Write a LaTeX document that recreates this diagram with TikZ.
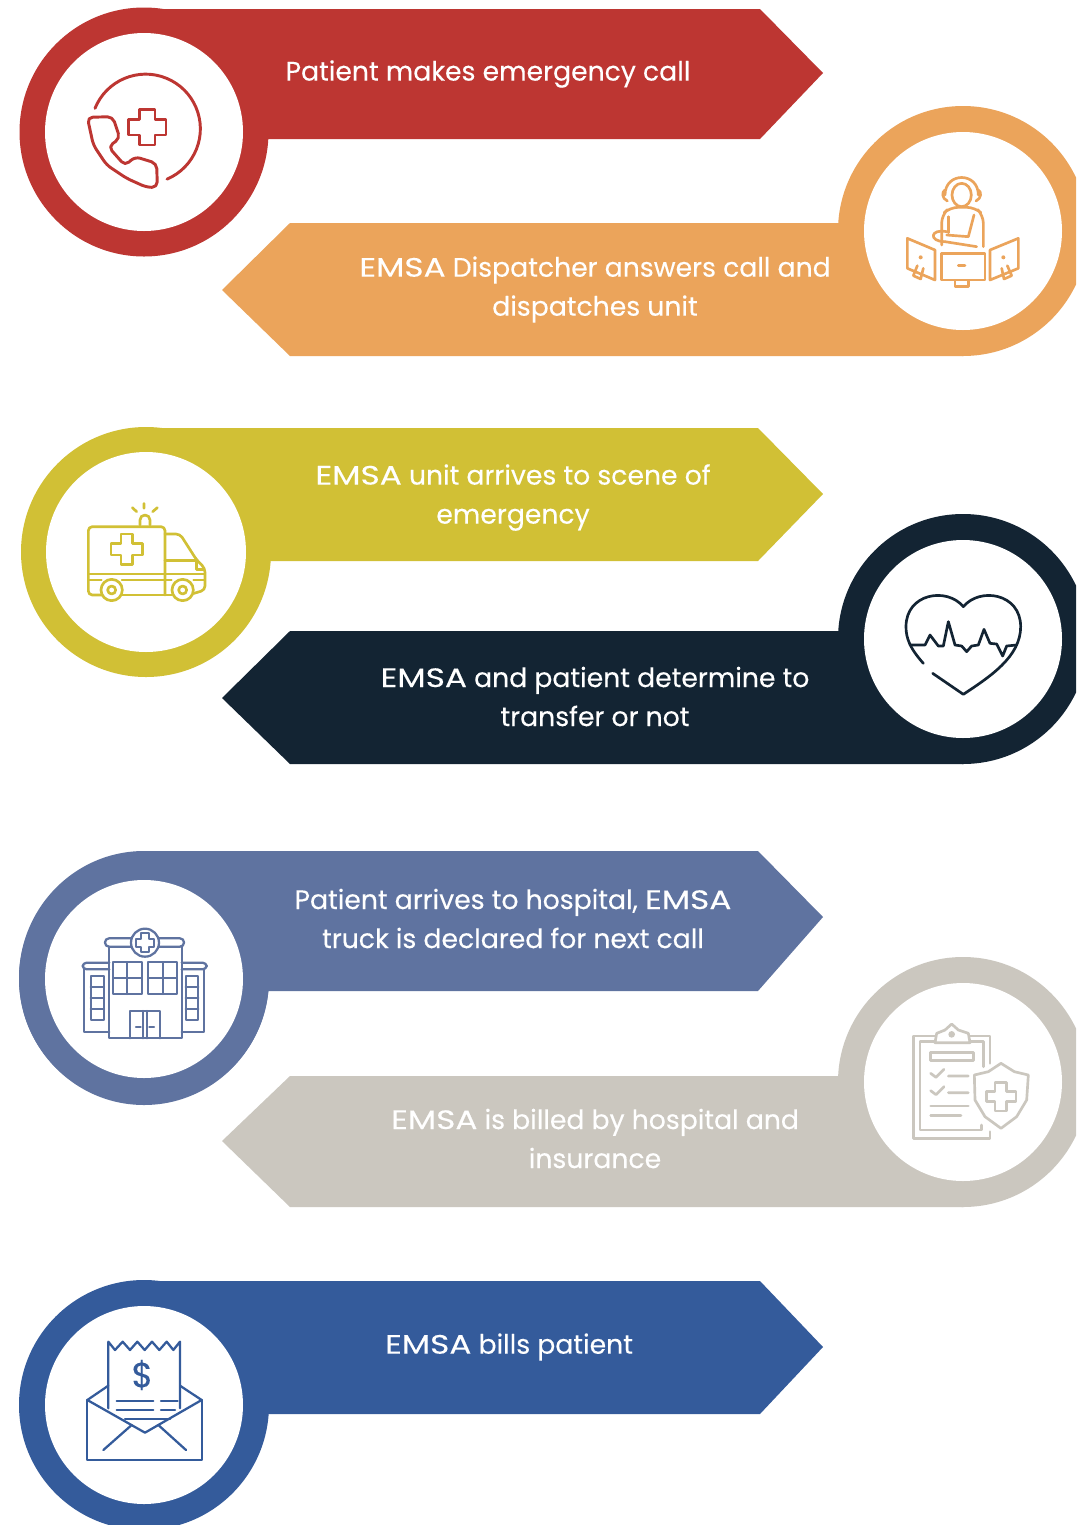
\documentclass[tikz,border=0pt]{standalone}
\usepackage{fontspec}
\setmainfont{Poppins}[FakeBold=0.25]
\definecolor{cred}{HTML}{BD3632}
\definecolor{corange}{HTML}{EBA45B}
\definecolor{colive}{HTML}{D1C035}
\definecolor{cnavy}{HTML}{132433}
\definecolor{cslate}{HTML}{5F73A0}
\definecolor{cbeige}{HTML}{CBC7BF}
\definecolor{cblue}{HTML}{345B9B}
\newcommand{\wideE}{\scalebox{1.23}[1]{EMSA}}
\newcommand{\bandL}[9]{% color cx cy rout rin top bottom tipy shoulder : arrow points right
  \fill[#1] (#2,#3) circle[radius=#4];
  \fill[#1] (#2,#6) -- (#9,#6) -- (823,#8) -- (#9,#7) -- (#2,#7) -- cycle;
  \fill[white] (#2,#3) circle[radius=#5];}
\newcommand{\bandR}[9]{% arrow points left
  \fill[#1] (#2,#3) circle[radius=#4];
  \fill[#1] (#2,#6) -- (#9,#6) -- (222,#8) -- (#9,#7) -- (#2,#7) -- cycle;
  \fill[white] (#2,#3) circle[radius=#5];}
\tikzset{
  lbl/.style={text=white,align=center,inner sep=0pt,font=\fontsize{20}{29.25}\selectfont},
  ico/.style={line width=2pt,line join=round,line cap=round},
}
\begin{document}
\begin{tikzpicture}[x=0.75pt,y=-0.75pt]
\useasboundingbox (0,0) rectangle (1076,1525);
\clip (0,0) rectangle (1076,1525);
\fill[white] (0,0) rectangle (1076,1525);

\bandL{cred}{144}{132}{124.5}{99}{9}{139}{73}{760}
\bandR{corange}{963}{231}{125}{99}{223}{356}{290}{290}
\bandL{colive}{146}{552}{125}{100}{428}{561}{494}{758}
\bandR{cnavy}{963}{639}{125}{99}{631}{764}{698}{290}
\fill[cslate] (144,978) ellipse[x radius=125,y radius=127];
\bandL{cslate}{144}{979}{125}{99}{851}{991}{917}{758}
\bandR{cbeige}{963}{1082}{125}{99}{1076}{1207}{1141}{290}
\bandL{cblue}{144}{1405}{125}{99}{1281}{1414}{1347}{760}

\node[lbl] (t1) at (488,74) {Patient makes emergency call};
\node[lbl] (t2) at (595,289.5) {\wideE{} Dispatcher answers call and\\dispatches unit};
\node[lbl] (t3) at (513,497.5) {\wideE{} unit arrives to scene of\\emergency};
\node[lbl] (t4) at (595,696.5) {\wideE{} and patient determine to\\transfer or not};
\node[lbl] (t5) at (513,918.5) {Patient arrives to hospital, \wideE\\truck is declared for next call};
\node[lbl] (t6) at (595,1138.5) {\wideE{} is billed by hospital and\\insurance};
\node[lbl] (t7) at (509,1347) {\wideE{} bills patient};

% phone
\begin{scope}[x=0.25pt,y=-0.25pt,ico,line width=2.2pt,draw=cred]
\draw (285,325) arc[start angle=202,end angle=427,radius=164];
\draw (418,328)--(465,328)--(465,358)--(498,358)--(498,405)--(465,405)--(465,435)--(418,435)--(418,405)--(386,405)--(386,358)--(418,358)--cycle;
\draw[rounded corners=4pt] (262,352)--(338,350)--(360,415)--(325,440)--(375,497)--(405,470)--(470,490)--(472,562)--(440,562)--(380,535)--(320,495)--(280,435)--cycle;
\end{scope}

% dispatcher
\begin{scope}[shift={(830,100)},x=0.25pt,y=-0.25pt,ico,draw=corange]
\draw (395,285) ellipse[x radius=29,y radius=35];
\draw (345,285) .. controls (345,215) and (445,215) .. (445,285);
\draw (345,270) .. controls (335,275) and (335,295) .. (352,303);
\draw (445,270) .. controls (455,275) and (455,295) .. (438,303);
\draw[rounded corners=6pt] (335,435)--(335,345)--(360,322)--(435,322)--(460,345)--(460,440);
\draw (355,350)--(355,398);
\draw (432,345)--(415,410)--(350,405);
\draw (350,395) .. controls (300,385) and (295,425) .. (345,425);
\draw (345,425)--(440,440);
\draw (335,460) rectangle (465,540);
\draw (385,497)--(405,497);
\draw (375,540) rectangle (415,560);
\draw (232,415)--(315,450)--(315,540)--(232,505)--cycle;
\draw (565,415)--(480,450)--(480,540)--(565,505)--cycle;
\fill[corange] (272,472) circle[radius=6];
\fill[corange] (520,472) circle[radius=6];
\draw (262,497)--(250,527)--(272,537)--(280,505);
\draw (532,497)--(545,527)--(522,537)--(515,505);
\end{scope}

% ambulance
\begin{scope}[shift={(20,470)},x=0.25pt,y=-0.25pt,ico,draw=colive]
\draw[rounded corners=3pt] (245,375)--(205,375)--(205,170)--(435,170)--(435,375);
\draw (305,375)--(455,375);
\draw (303,192)--(337,192)--(337,220)--(367,220)--(367,255)--(337,255)--(337,283)--(303,283)--(303,255)--(273,255)--(273,220)--(303,220)--cycle;
\draw[line width=1.2pt] (205,312)--(552,312);
\draw[line width=1.2pt] (205,330)--(245,330) (305,330)--(455,330) (520,330)--(552,330);
\draw (275,360) circle[radius=32];
\draw (275,360) circle[radius=12];
\draw (488,360) circle[radius=32];
\draw (488,360) circle[radius=12];
\draw (360,165)--(360,150) arc[start angle=180,end angle=360,radius=15]--(390,165);
\draw (372,100)--(372,115) (337,113)--(350,125) (412,113)--(398,125);
\draw[rounded corners=3pt] (435,192)--(480,192)--(530,270)--(555,295)--(555,360)--(522,370);
\draw (435,272)--(530,272)--(530,298)--(550,298);
\end{scope}

% heart
\begin{scope}[shift={(860,560)},x=0.25pt,y=-0.25pt,ico,draw=cnavy]
\draw (190,310) .. controls (150,265) and (138,235) .. (138,200)
  .. controls (138,100) and (260,80) .. (310,140)
  .. controls (360,80) and (482,100) .. (482,200)
  .. controls (482,290) and (390,350) .. (310,403)
  -- (218,340);
\draw (150,255)--(195,255)--(210,225)--(235,258)--(250,258)--(265,185)--(285,255)--(305,258)--(320,275)--(335,258)--(355,255)--(372,208)--(390,250)--(410,252)--(428,288)--(440,258)--(470,255);
\end{scope}

% hospital
\begin{scope}[shift={(50,900)},x=0.25pt,y=-0.25pt,ico,line width=1.7pt,draw=cslate]
\draw (178,140)--(178,415)--(395,415)--(395,140);
\draw[rounded corners=3pt] (165,140) rectangle (402,115);
\draw[fill=white] (285,128) circle[radius=42];
\draw (272,100)--(298,100)--(298,116)--(313,116)--(313,140)--(298,140)--(298,156)--(272,156)--(272,140)--(257,140)--(257,116)--(272,116)--cycle;
\draw[rounded corners=3pt] (178,208)--(98,208)--(98,188)--(178,188);
\draw[rounded corners=3pt] (395,208)--(470,208)--(470,188)--(395,188);
\draw (103,208)--(103,395)--(178,395);
\draw (463,208)--(463,395)--(395,395);
\draw (122,227) rectangle (162,360);
\draw (122,262)--(162,262) (122,295)--(162,295) (122,328)--(162,328);
\draw (407,227) rectangle (445,360);
\draw (407,262)--(445,262) (407,295)--(445,295) (407,328)--(445,328);
\draw (190,187) rectangle (275,282);
\draw (232,187)--(232,282) (190,234)--(275,234);
\draw (295,187) rectangle (380,282);
\draw (338,187)--(338,282) (295,234)--(380,234);
\draw (240,415)--(240,333)--(330,333)--(330,415);
\draw (280,333)--(280,415) (290,333)--(290,415);
\draw (258,380)--(272,380) (298,380)--(312,380);
\end{scope}

% clipboard
\begin{scope}[shift={(880,1000)},x=0.25pt,y=-0.25pt,ico,draw=cbeige]
\draw (330,190)--(330,108)--(270,108);
\draw (165,108)--(100,108)--(100,415)--(330,415)--(330,395);
\draw (165,125)--(120,125)--(120,390)--(305,390)--(305,375);
\draw (270,125)--(310,125)--(310,200);
\draw (165,128)--(170,100)--(195,90)--(215,72)--(235,90)--(265,100)--(270,128)--cycle;
\fill[cbeige] (215,103) circle[radius=10];
\draw (152,158) rectangle (280,182);
\draw (152,220)--(168,232)--(192,208) (205,228)--(265,228);
\draw (152,272)--(168,284)--(192,260) (205,278)--(265,278);
\draw (152,318)--(265,318) (152,347)--(243,347);
\draw (363,190)--(325,215)--(283,225)--(285,300)--(315,350)--(363,385)--(410,350)--(440,300)--(445,225)--(403,215)--cycle;
\draw (345,247)--(380,247)--(380,275)--(408,275)--(408,305)--(380,305)--(380,333)--(345,333)--(345,305)--(320,305)--(320,275)--(345,275)--cycle;
\end{scope}

% bill
\begin{scope}[shift={(50,1320)},x=0.25pt,y=-0.25pt,ico,line width=1.7pt,draw=cblue]
\draw (175,265)--(175,65)--(195,90)--(218,65)--(240,90)--(262,65)--(284,90)--(306,65)--(328,90)--(350,65)--(370,90)--(390,65)--(390,265);
\node[text=cblue,inner sep=0pt,font=\fontsize{26}{26}\selectfont] (dollar) at (277,165) {\$};
\draw (200,243)--(310,243) (333,243)--(383,243);
\draw (200,270)--(310,270) (333,270)--(375,270);
\draw (225,298)--(335,298) (335,298)--(360,298);
\draw (112,240)--(112,420)--(455,420)--(455,240);
\draw (112,240)--(285,338)--(455,240);
\draw (112,240)--(175,197) (455,240)--(390,197);
\draw (160,390)--(245,315) (408,390)--(325,315);
\end{scope}
\end{tikzpicture}
\end{document}
